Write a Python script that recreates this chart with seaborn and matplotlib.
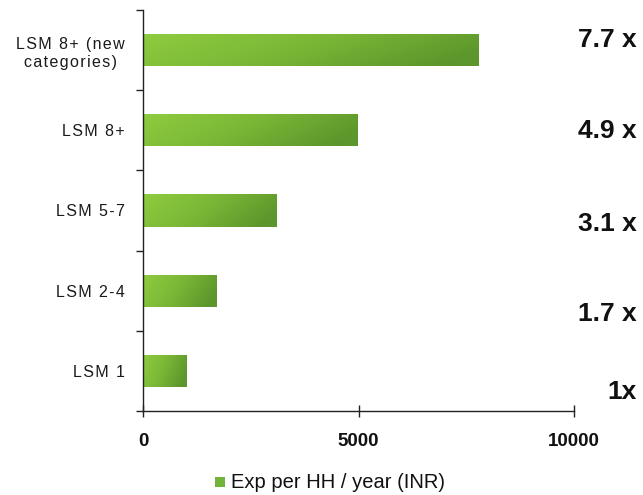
import numpy as np
import pandas as pd
import matplotlib
matplotlib.use("Agg")
import matplotlib.pyplot as plt
from matplotlib.colors import LinearSegmentedColormap
from matplotlib.patches import Rectangle
import seaborn as sns

# Data
categories = ["LSM 8+ (new\ncategories)", "LSM 8+", "LSM 5-7", "LSM 2-4", "LSM 1"]
expenditure = [7780, 4970, 3100, 1700, 1000]
multiples = ["7.7 x", "4.9 x", "3.1 x", "1.7 x", "1x"]
x_ticks = [0, 5000, 10000]
series_name = "Exp per HH / year (INR)"

sns.set_theme(style="white")
plt.rcParams["font.family"] = ["Liberation Sans", "DejaVu Sans"]


def spaced(s):
    # widen letter spacing with hair spaces between characters
    return "\n".join("\u200a".join(line) for line in s.split("\n"))


df = pd.DataFrame({"segment": categories, "exp": expenditure})

fig = plt.figure(figsize=(6.43, 4.95), dpi=100)
ax = fig.add_axes([143 / 643, 1 - 411 / 495, (574 - 143) / 643, (411 - 10) / 495])

sns.barplot(data=df, y="segment", x="exp", orient="h", color="#78b83a",
            width=0.4, ax=ax, saturation=1)

# Green gradient fill for each bar, light on the left, darker on the right
cmap = LinearSegmentedColormap.from_list("grn", ["#8fcc3f", "#7ab736", "#5c962c"])
gx = np.linspace(0, 1, 256)
gy = np.linspace(0, 1, 32)
GX, GY = np.meshgrid(gx, gy)
grad = np.clip(0.85 * GX + 0.25 * GY, 0, 1)
for patch in ax.patches:
    x0, y0 = patch.get_x(), patch.get_y()
    w, h = patch.get_width(), patch.get_height()
    im = ax.imshow(grad, cmap=cmap, extent=(x0, x0 + w, y0 + h, y0),
                   aspect="auto", interpolation="bilinear", zorder=patch.get_zorder())
    im.set_clip_path(patch)
    patch.set_facecolor("none")
    patch.set_edgecolor("none")

ax.set_xlim(0, 10000)
ax.set_ylim(4.5, -0.5)
ax.set_xlabel("")
ax.set_ylabel("")

# Axes lines and ticks
for s in ["top", "right"]:
    ax.spines[s].set_visible(False)
for s in ["left", "bottom"]:
    ax.spines[s].set_color("#222222")
    ax.spines[s].set_linewidth(1.0)

ax.set_xticks(x_ticks)
ax.set_xticklabels([str(t) for t in x_ticks], fontsize=13.5, fontweight="bold", color="#111111")
ax.tick_params(axis="x", direction="inout", length=8, width=1, color="#222222", pad=12, bottom=True)

ax.set_yticks(range(len(categories)))
ax.set_yticklabels([spaced(c) for c in categories], fontsize=11.5, color="#1a1a1a",
                   linespacing=1.25, multialignment="center")
ax.tick_params(axis="y", which="major", length=0, pad=13)
ax.set_yticks(np.arange(-0.5, len(categories), 1.0), minor=True)
ax.tick_params(axis="y", which="minor", direction="out", length=5, width=1, color="#222222", left=True)

# Multiples to the right of the bars
label_y = [40, 131, 224, 314, 392]
for txt, yp in zip(multiples, label_y):
    fig.text(637 / 643, 1 - yp / 495, txt, ha="right", va="center",
             fontsize=19, fontweight="bold", color="#111111")

# Legend
fig.patches.append(Rectangle((215 / 643, 1 - 487 / 495), 10 / 643, 10 / 495,
                             transform=fig.transFigure, facecolor="#72b33a",
                             edgecolor="none"))
fig.text(231 / 643, 1 - 482 / 495, series_name, ha="left", va="center",
         fontsize=14.5, color="#111111")

fig.savefig("out.png", dpi=100)
